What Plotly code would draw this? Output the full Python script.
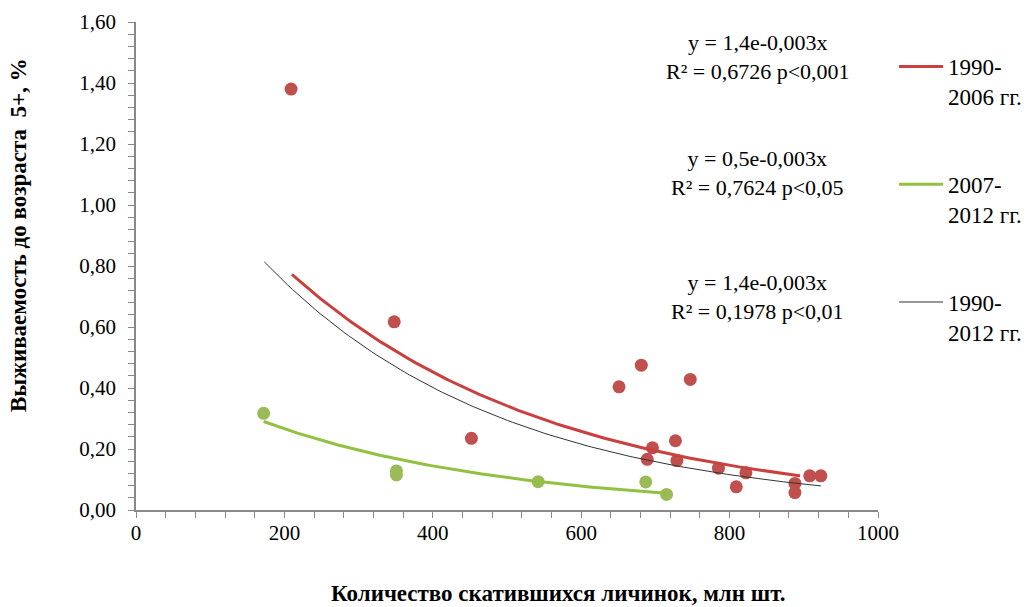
import numpy as np
import plotly.graph_objects as go

# ---- data ----
red_x = [209, 348, 452, 651, 681, 747, 696, 689, 727, 729, 785, 822, 809, 888, 888, 908, 923]
red_y = [1.38, 0.617, 0.235, 0.404, 0.475, 0.428, 0.204, 0.166, 0.227, 0.162, 0.137, 0.122, 0.076, 0.087, 0.057, 0.112, 0.112]
green_x = [172, 351, 351, 542, 687, 715]
green_y = [0.317, 0.128, 0.115, 0.093, 0.092, 0.051]

# trend lines  y = a * exp(-b x), drawn over [x0, x1]
fit_red = dict(a=1.397, b=0.00282, x0=210, x1=895)
fit_green = dict(a=0.491, b=0.00306, x0=172, x1=715)
fit_all = dict(a=1.393, b=0.00311, x0=173, x1=923)

legend_names = ["1990-<br>2006 гг.", "2007-<br>2012 гг.", "1990-<br>2012 гг."]
equations = [
    "y = 1,4e-0,003x<br>R² = 0,6726 p<0,001",
    "y = 0,5e-0,003x<br>R² = 0,7624 p<0,05",
    "y = 1,4e-0,003x<br>R² = 0,1978 p<0,01",
]
x_title = "<b>Количество скатившихся личинок, млн шт.</b>"
y_title = "<b>Выживаемость до возраста  5+, %</b>"

RED_M = "#C0504D"
RED_L = "#C9403E"
GREEN_M = "#9BBB59"
GREEN_L = "#92C040"
FONT = "Liberation Serif"


def curve(f):
    xs = np.linspace(f["x0"], f["x1"], 120)
    return xs, f["a"] * np.exp(-f["b"] * xs)


fig = go.Figure()

fig.add_trace(go.Scatter(x=red_x, y=red_y, mode="markers", showlegend=False,
                         marker=dict(color=RED_M, size=13)))
fig.add_trace(go.Scatter(x=green_x, y=green_y, mode="markers", showlegend=False,
                         marker=dict(color=GREEN_M, size=13)))

xs, ys = curve(fit_red)
fig.add_trace(go.Scatter(x=xs, y=ys, mode="lines", name=legend_names[0], legendgroup="a",
                         line=dict(color=RED_L, width=3)))
xs, ys = curve(fit_green)
fig.add_trace(go.Scatter(x=xs, y=ys, mode="lines", name=legend_names[1], legendgroup="b",
                         line=dict(color=GREEN_L, width=3)))
xs, ys = curve(fit_all)
fig.add_trace(go.Scatter(x=xs, y=ys, mode="lines", name=legend_names[2], legendgroup="c",
                         line=dict(color="#333333", width=1)))

eq_y = [1.485, 1.105, 0.70]
for t, yy in zip(equations, eq_y):
    fig.add_annotation(x=0.838, xref="paper", xanchor="center", y=yy, yref="y",
                       yanchor="middle", text=t,
                       showarrow=False, font=dict(family=FONT, size=22, color="black"),
                       align="center")

# axis titles
fig.add_annotation(x=0.569, xref="paper", xanchor="center", y=-0.172, yref="paper",
                   yanchor="middle", text=x_title, showarrow=False,
                   font=dict(family=FONT, size=23, color="black"))
fig.add_annotation(x=-0.159, xref="paper", xanchor="center", y=0.5635, yref="paper",
                   yanchor="middle", text=y_title, showarrow=False, textangle=-90,
                   font=dict(family=FONT, size=23, color="black"))

fig.update_layout(
    width=1028, height=607,
    margin=dict(l=136, r=150, t=22, b=97, autoexpand=False),
    paper_bgcolor="white", plot_bgcolor="white",
    separators=", ",
    font=dict(family=FONT, size=20, color="black"),
    legend=dict(x=1.0216, xanchor="left", y=0.953, yanchor="top",
                font=dict(family=FONT, size=23), valign="top", itemwidth=44,
                tracegroupgap=55, traceorder="grouped"),
)
fig.update_xaxes(range=[0, 1000], dtick=200, showgrid=False, zeroline=False,
                 showline=True, linecolor="#888888", linewidth=1.5,
                 ticks="outside", ticklen=6, tickcolor="#888888",
                 minor=dict(dtick=40, ticks="outside", ticklen=6, tickcolor="#888888"),
                 tickfont=dict(family=FONT, size=21), ticklabelstandoff=-3,
                 automargin=False)
fig.update_yaxes(range=[0, 1.6], dtick=0.2, tickformat=".2f", showgrid=False, zeroline=False,
                 showline=True, linecolor="#888888", linewidth=1.5,
                 ticks="outside", ticklen=6, tickcolor="#888888",
                 minor=dict(dtick=0.04, ticks="outside", ticklen=6, tickcolor="#888888"),
                 tickfont=dict(family=FONT, size=21), ticklabelstandoff=8,
                 automargin=False)

fig.write_html("out.html")
